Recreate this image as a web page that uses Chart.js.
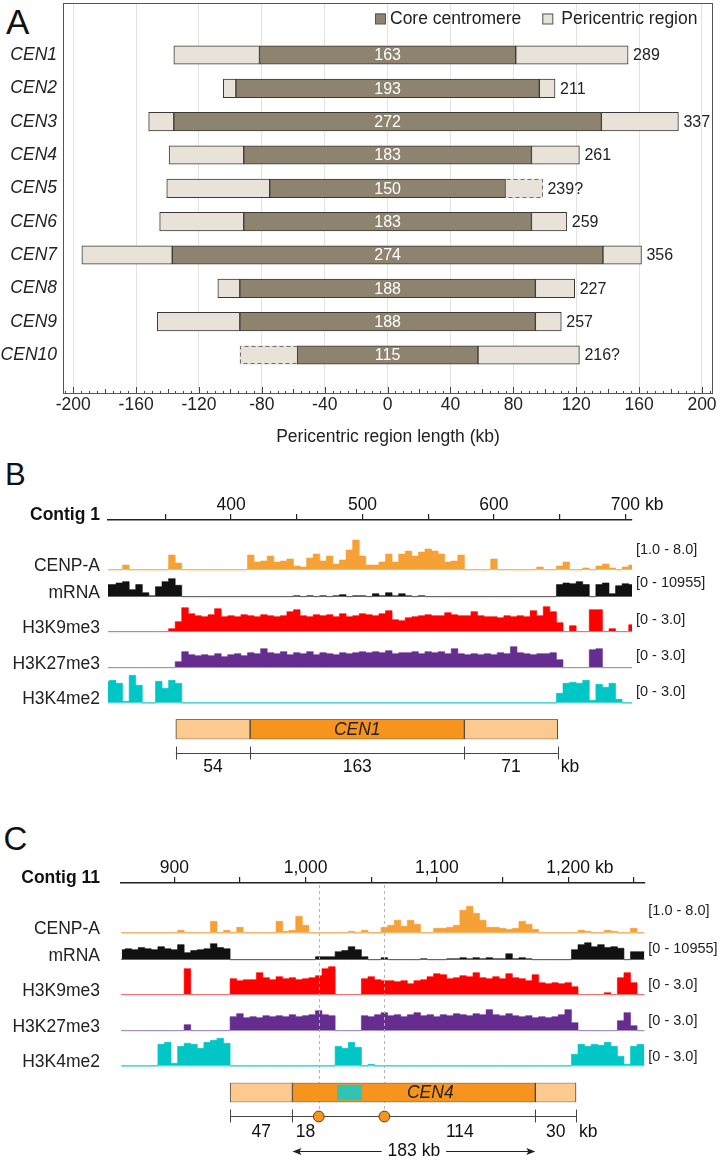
<!DOCTYPE html>
<html lang="en">
<head>
<meta charset="UTF-8">
<title>Centromere and pericentric regions</title>
<script src="https://cdn.jsdelivr.net/npm/chart.js"></script>
<style>
  body { margin: 0; background: #fff; }
  #page { position: relative; width: 720px; height: 1161px; overflow: hidden; font-family: "Liberation Sans", Arial, sans-serif; color: #111; }
  #page canvas { position: absolute; left: 0; }
  .letter { position: absolute; line-height: 1; }
</style>
</head>
<body>
<div id="page">
  <div class="letter" style="left:6px; top:3.7px; font-size:35px;">A</div>
  <div class="letter" style="left:5px; top:458.8px; font-size:31px;">B</div>
  <div class="letter" style="left:3.5px; top:822px; font-size:33px;">C</div>
  <canvas id="lengths" width="720" height="460" style="top:0px"></canvas>
  <canvas id="contig1" width="720" height="230" style="top:480px"></canvas>
  <canvas id="cen1" width="720" height="70" style="top:710px"></canvas>
  <canvas id="contig11" width="720" height="230" style="top:840px"></canvas>
  <canvas id="cen4" width="720" height="91" style="top:1070px"></canvas>
</div>
<script>
// ---------- panel A: pericentric region lengths (kb) ----------
const cenNames = ['CEN1', 'CEN2', 'CEN3', 'CEN4', 'CEN5', 'CEN6', 'CEN7', 'CEN8', 'CEN9', 'CEN10'];
const coreLen = [163, 193, 272, 183, 150, 183, 274, 188, 188, 115];
const periStart = [-136, -104.5, -152, -139, -140.5, -145, -194.5, -108, -146.5, -94];
const periEnd = [153, 106.5, 185, 122, 98.5, 114, 161.5, 119, 110.5, 122];
const totalLabels = ['289', '211', '337', '261', '239?', '259', '356', '227', '257', '216?'];
const uncertainSide = ['', '', '', '', 'right', '', '', '', '', 'left'];
const lengthTicks = [-200, -160, -120, -80, -40, 0, 40, 80, 120, 160, 200];

// ---------- panels B and C: signal tracks ----------
const trackNames = ['CENP-A', 'mRNA', 'H3K9me3', 'H3K27me3', 'H3K4me2'];
const trackRanges = [[1, 8], [0, 10955], [0, 3], [0, 3], [0, 3]];
const rangeLabels = ['[1.0 - 8.0]', '[0 - 10955]', '[0 - 3.0]', '[0 - 3.0]', '[0 - 3.0]'];
const binStep = 5;

// contig 1, bins every 5 kb from 305 kb
const contig1Start = 305;
const contig1Ticks = [350, 400, 450, 500, 550, 600, 650, 700];
const contig1Labels = [400, 500, 600, 700];
const cenpaContig1 = [
  1, 1, 1, 2.0, 1, 1, 1, 1, 1, 1,
  4.0, 2.4, 1, 1, 1, 1, 1, 1, 1, 1,
  1, 1, 4.0, 2.6, 2.8, 3.8, 2.6, 2.8, 3.2, 1.8,
  1.6, 3.4, 4.2, 2.8, 3.8, 2.2, 3.0, 5.0, 7.0, 3.8,
  2.0, 2.0, 2.6, 4.2, 2.6, 4.2, 4.8, 3.8, 4.6, 5.2,
  4.8, 4.2, 2.6, 2.8, 4.0, 1, 1, 1, 1, 3.2,
  1, 1, 1, 1, 1, 1, 1.6, 1, 1, 1.8,
  2.6, 1, 1, 1.4, 1, 1.8, 2.2, 1.4, 1, 1.6,
  2.0];
const mrnaContig1 = [
  5300, 5300, 6000, 6600, 3100, 5300, 1750, 400, 4400, 6600,
  7900, 5000, 0, 0, 0, 0, 0, 0, 0, 0,
  0, 0, 0, 0, 0, 0, 0, 0, 0, 440,
  0, 440, 0, 440, 0, 440, 900, 0, 440, 440,
  0, 1300, 440, 1750, 440, 1300, 440, 0, 440, 0,
  0, 0, 0, 0, 0, 0, 0, 0, 0, 0,
  0, 0, 0, 0, 0, 0, 0, 0, 0, 5300,
  6000, 5700, 6600, 5300, 0, 5300, 6000, 1300, 4800, 5700,
  5300];
const h3k9Contig1 = [
  0, 0, 0, 0, 0, 0, 0, 0, 0, 0,
  0.3, 1.0, 2.4, 1.8, 1.6, 1.5, 1.7, 2.3, 1.5, 1.6,
  1.5, 1.7, 1.6, 1.5, 1.7, 1.6, 1.5, 1.6, 2.0, 2.2,
  1.6, 1.5, 1.7, 1.6, 1.7, 1.5, 1.8, 1.5, 1.6, 1.8,
  1.7, 1.6, 1.8, 2.1, 1.2, 1.1, 1.4, 1.5, 1.6, 1.7,
  1.6, 1.6, 1.9, 1.7, 1.6, 1.6, 2.0, 1.6, 1.5, 1.5,
  1.4, 1.6, 1.5, 1.6, 1.5, 2.1, 1.6, 2.5, 2.0, 0.9,
  0, 0.6, 0, 0, 2.2, 2.2, 0, 0.3, 0, 0,
  0.7];
const h3k27Contig1 = [
  0, 0, 0, 0, 0, 0, 0, 0, 0, 0,
  0, 0.6, 1.6, 1.3, 1.2, 1.3, 1.2, 1.4, 1.1, 1.3,
  1.4, 1.2, 1.5, 1.4, 1.9, 1.5, 1.4, 1.6, 1.3, 1.5,
  1.4, 1.6, 1.3, 1.5, 1.4, 1.3, 1.5, 1.4, 1.5, 1.6,
  1.5, 1.6, 1.5, 1.7, 1.4, 1.5, 1.5, 1.6, 1.4, 1.6,
  1.5, 1.6, 1.4, 1.9, 1.4, 1.3, 1.4, 1.3, 1.4, 1.3,
  1.5, 1.4, 2.1, 1.5, 1.4, 1.3, 1.4, 1.4, 1.5, 0.8,
  0, 0, 0, 0, 1.8, 1.9, 0, 0, 0, 0,
  0];
const h3k4Contig1 = [
  2.2, 2.3, 2.0, 0.2, 2.8, 1.8, 0, 0, 2.2, 1.5,
  2.3, 2.0, 0, 0, 0, 0, 0, 0, 0, 0,
  0, 0, 0, 0, 0, 0, 0, 0, 0, 0,
  0, 0, 0, 0, 0, 0, 0, 0, 0, 0,
  0, 0, 0, 0, 0, 0, 0, 0, 0, 0,
  0, 0, 0, 0, 0, 0, 0, 0, 0, 0,
  0, 0, 0, 0, 0, 0, 0, 0, 0, 1.0,
  2.0, 2.1, 2.0, 2.3, 0.3, 1.9, 1.6, 2.0, 0.4, 0,
  0];
const cen1Bounds = [358, 414.5, 577.5, 648.5];
const cen1Sizes = ['54', '163', '71'];

// contig 11, bins every 5 kb from 860 kb
const contig11Start = 860;
const contig11Ticks = [900, 950, 1000, 1050, 1100, 1150, 1200, 1250];
const contig11Labels = [900, 1000, 1100, 1200];
const cenpaContig11 = [
  1, 1, 1, 1, 1, 1, 1, 1, 1, 1.6,
  1, 1, 1, 1, 3.4, 1, 1.6, 1, 2.2, 1,
  1, 1, 1, 1, 3.4, 1.4, 1.6, 4.4, 2.6, 1,
  1, 1, 1, 1, 1, 1.4, 1, 1.6, 1, 1,
  2.2, 2.6, 3.6, 2.4, 3.6, 2.8, 1, 1, 2.0, 2.0,
  2.2, 2.6, 5.6, 6.4, 5.0, 3.6, 2.2, 2.2, 2.0, 1.8,
  2.0, 3.4, 2.8, 1.8, 1, 1, 1, 1, 1, 1,
  1.6, 1.4, 1, 1, 1.6, 1.4, 1, 1, 2.0, 1,
  1];
const mrnaContig11 = [
  4400, 4800, 4400, 5300, 4800, 4400, 5700, 4800, 4400, 6600,
  3100, 4000, 4400, 4800, 7000, 5300, 4800, 0, 0, 0,
  0, 0, 0, 0, 0, 0, 0, 0, 0, 0,
  1300, 1300, 1300, 3500, 4000, 5700, 4400, 1300, 0, 0,
  900, 0, 0, 0, 0, 0, 440, 0, 0, 0,
  440, 440, 900, 440, 900, 440, 900, 440, 440, 2600,
  440, 900, 440, 0, 0, 0, 0, 0, 0, 4400,
  6600, 7400, 5700, 6600, 5300, 5700, 5000, 0, 3500, 3500,
  3500];
const h3k9Contig11 = [
  0, 0, 0, 0, 0, 0, 0, 0, 0, 0,
  2.6, 0, 0, 0, 0, 0, 0, 1.6, 1.4, 1.5,
  1.5, 2.2, 1.7, 1.5, 1.8, 1.6, 1.7, 1.5, 1.6, 1.7,
  1.9, 2.6, 2.8, 0, 0, 0, 0, 1.6, 1.8, 1.5,
  1.4, 1.4, 1.3, 1.4, 1.1, 1.4, 1.5, 1.8, 2.1, 2.0,
  1.6, 1.7, 1.9, 1.8, 2.2, 1.7, 1.6, 1.8, 1.6, 2.1,
  1.7, 1.6, 1.4, 2.0, 1.2, 1.1, 1.2, 1.1, 1.2, 0.8,
  0, 0, 0, 0, 0.2, 0, 1.7, 2.2, 1.2, 0,
  0];
const h3k27Contig11 = [
  0, 0, 0, 0, 0, 0, 0, 0, 0, 0,
  0.6, 0, 0, 0, 0, 0, 0, 1.4, 1.7, 1.3,
  1.4, 1.3, 1.5, 1.4, 1.5, 1.4, 1.6, 1.4, 1.5, 1.6,
  2.0, 1.6, 1.5, 0, 0, 0, 0, 1.5, 1.4, 1.6,
  1.8, 1.5, 1.6, 1.4, 1.6, 1.8, 1.5, 1.6, 1.4, 1.6,
  1.5, 1.7, 1.6, 1.5, 1.7, 1.6, 2.1, 1.6, 1.5, 1.7,
  1.5, 1.4, 1.5, 1.3, 1.4, 1.3, 1.4, 1.6, 2.1, 0.8,
  0, 0, 0, 0, 0, 0, 1.0, 1.8, 0.5, 0,
  0];
const h3k4Contig11 = [
  0, 0, 0, 0, 0, 0, 2.2, 2.4, 0.3, 2.0,
  2.3, 2.2, 1.8, 2.4, 2.6, 2.8, 2.3, 0, 0, 0,
  0, 0, 0, 0, 0, 0, 0, 0, 0, 0,
  0, 0, 0, 2.0, 1.8, 2.4, 1.9, 0, 0.2, 0,
  0, 0, 0, 0, 0, 0, 0, 0, 0, 0,
  0, 0, 0, 0, 0, 0, 0, 0, 0, 0,
  0, 0, 0, 0, 0, 0, 0, 0, 0, 1.2,
  2.2, 2.0, 2.2, 2.1, 2.4, 2.0, 1.0, 0.2, 2.0, 2.2,
  2.0];
const cen4Bounds = [942.5, 990, 1175, 1206];
const cen4Repeat = [1024, 1043];
const cen4Marks = [1010, 1060];
const cen4Spans = [[942.5, 990], [990, 1010], [1060, 1175], [1175, 1206]];
const cen4Sizes = ['47', '18', '114', '30'];

// ---------- styles ----------
const FONT = '"Liberation Sans", Arial, sans-serif';
Chart.defaults.font.family = FONT;
Chart.defaults.color = '#222';

const coreBrown = '#8e836f';
const periBeige = '#e8e2d9';
const trackColors = ['#f5a136', '#111111', '#ff0000', '#662d91', '#00c6c6'];
const baseColors = ['#f6b86a', '#666666', '#f27272', '#a58fc8', '#55d5d5'];
const trackHeights = [35, 25, 30, 30, 30];
const periOrange = '#fcc98f';
const coreOrange = '#f7941d';
const repeatTeal = '#30c4b4';

function px(ctx, x0, y0, x1, y1) {
  ctx.beginPath(); ctx.moveTo(x0, y0); ctx.lineTo(x1, y1); ctx.stroke();
}

// ---------- panel A ----------
const aDecor = {
  id: 'aDecor',
  afterDatasetsDraw(chart) {
    const { ctx, chartArea: a, scales: { x } } = chart;
    const core = chart.getDatasetMeta(0).data;
    const left = chart.getDatasetMeta(1).data;
    const right = chart.getDatasetMeta(2).data;
    ctx.save();

    // dashed outline where the pericentric end is uncertain
    ctx.setLineDash([4, 3]);
    ctx.strokeStyle = '#6e6e6e';
    ctx.lineWidth = 1;
    uncertainSide.forEach((side, i) => {
      if (!side) return;
      const bar = (side === 'left' ? left : right)[i];
      const t = Math.round(bar.y - bar.height / 2) + 0.5;
      const b = Math.round(bar.y + bar.height / 2) - 0.5;
      const inner = Math.round(bar.base) + 0.5;
      const outer = Math.round(bar.x) + 0.5;
      ctx.beginPath();
      ctx.moveTo(inner, t); ctx.lineTo(outer, t); ctx.lineTo(outer, b); ctx.lineTo(inner, b);
      ctx.stroke();
    });
    ctx.setLineDash([]);

    // core length inside, total length at the end
    ctx.font = '16px ' + FONT;
    ctx.textBaseline = 'middle';
    core.forEach((bar, i) => {
      ctx.fillStyle = '#fff';
      ctx.textAlign = 'center';
      ctx.fillText(String(coreLen[i]), (bar.x + bar.base) / 2, bar.y + 1);
    });
    right.forEach((bar, i) => {
      ctx.fillStyle = '#222';
      ctx.textAlign = 'left';
      ctx.fillText(totalLabels[i], Math.max(bar.x, bar.base) + 5, bar.y + 1);
    });

    // small ticks inside the bottom axis
    ctx.strokeStyle = '#444';
    for (let v = -205; v <= 205; v += 5) {
      const p = Math.round(x.getPixelForValue(v)) + 0.5;
      const len = v % 40 === 0 ? 7 : (v % 20 === 0 ? 5 : 3);
      px(ctx, p, a.bottom, p, a.bottom - len);
    }
    ctx.restore();
  },
  afterDraw(chart) {
    const { ctx, chartArea: a } = chart;
    ctx.save();
    ctx.strokeStyle = '#555';
    ctx.lineWidth = 1;
    ctx.strokeRect(a.left + 0.5, a.top + 0.5, a.width - 1, a.height - 1);

    // legend
    const items = [['Core centromere', coreBrown], ['Pericentric region', periBeige]];
    ctx.font = '17.5px ' + FONT;
    ctx.textBaseline = 'middle';
    ctx.textAlign = 'left';
    let lx = 375;
    items.forEach(([text, color], i) => {
      ctx.fillStyle = color;
      ctx.fillRect(lx, 13.5, 10.5, 10.5);
      ctx.strokeStyle = '#555';
      ctx.strokeRect(lx + 0.5, 14, 10, 10);
      const tx = lx + (i === 0 ? 15 : 19);
      ctx.fillStyle = '#222';
      ctx.fillText(text, tx, 19.5);
      lx = tx + ctx.measureText(text).width + 21;
    });
    ctx.restore();
  }
};

new Chart(document.getElementById('lengths'), {
  type: 'bar',
  data: {
    datasets: [
      {
        label: 'Core centromere',
        data: cenNames.map((n, i) => ({ x: [-coreLen[i] / 2, coreLen[i] / 2], y: i + 1 })),
        backgroundColor: coreBrown
      },
      {
        label: 'Pericentric region',
        data: cenNames.map((n, i) => ({ x: [periStart[i], -coreLen[i] / 2], y: i + 1 })),
        backgroundColor: periBeige,
        borderWidth: c => uncertainSide[c.dataIndex] === 'left' ? 0 : 1
      },
      {
        label: 'Pericentric region',
        data: cenNames.map((n, i) => ({ x: [coreLen[i] / 2, periEnd[i]], y: i + 1 })),
        backgroundColor: periBeige,
        borderWidth: c => uncertainSide[c.dataIndex] === 'right' ? 0 : 1
      }
    ]
  },
  options: {
    indexAxis: 'y',
    responsive: false,
    animation: false,
    events: [],
    datasets: { bar: { barThickness: 18.5, grouped: false, borderSkipped: false, borderColor: '#3b3935', borderWidth: 1 } },
    layout: { padding: { top: 3, right: 7, left: 0, bottom: 0 } },
    plugins: { legend: { display: false }, tooltip: { enabled: false } },
    scales: {
      x: {
        type: 'linear', min: -206.5, max: 207,
        afterBuildTicks: s => { s.ticks = lengthTicks.map(v => ({ value: v })); },
        afterFit: s => { s.height = 66; },
        grid: { color: '#e3e3e3', drawTicks: false, tickLength: 0 },
        border: { display: false },
        ticks: { padding: 1, font: { size: 17.5 }, color: '#222', maxRotation: 0, autoSkip: false },
        title: { display: true, text: 'Pericentric region length (kb)', font: { size: 17.5 }, color: '#222', padding: { top: 0, bottom: 12 } }
      },
      y: {
        type: 'linear', reverse: true, offset: false, min: -0.56, max: 11.17,
        afterBuildTicks: s => { s.ticks = cenNames.map((n, i) => ({ value: i + 1 })); },
        afterFit: s => { s.width = 63; s.paddingTop = 0; s.paddingBottom = 0; },
        grid: { display: false, drawTicks: false, offset: false },
        border: { display: false },
        ticks: { padding: 6, font: { size: 17.5, style: 'italic' }, color: '#222', callback: v => cenNames[v - 1] }
      }
    }
  },
  plugins: [aDecor]
});

// ---------- panels B and C: tracks ----------
const fmtKb = v => v.toLocaleString('en-US');

function trackPanel(id, p) {
  const canvas = document.getElementById(id);
  const areaTop = p.canvasTop + p.rulerHeight;
  const areaBottom = p.canvasTop + canvas.height;
  const scales = {
    x: {
      type: 'linear', position: 'top', min: p.min, max: p.max,
      afterBuildTicks: s => { s.ticks = p.ticks.map(v => ({ value: v })); },
      afterFit: s => { s.height = p.rulerHeight; },
      grid: { drawOnChartArea: false, drawTicks: true, tickLength: 6, color: '#222', lineWidth: 1.2 },
      border: { display: true, color: '#222', width: 1.5 },
      ticks: {
        callback: v => p.labelTicks.includes(v) ? fmtKb(v) : '',
        font: { size: 17.5 }, color: '#111', padding: p.tickPad, maxRotation: 0, autoSkip: false
      }
    }
  };
  const datasets = p.tracks.map((vals, i) => {
    const [lo, hi] = trackRanges[i];
    const perPx = (hi - lo) / trackHeights[i];
    scales['y' + i] = {
      type: 'linear', display: false,
      min: lo - (areaBottom - p.bases[i]) * perPx,
      max: hi + (p.bases[i] - trackHeights[i] - areaTop) * perPx
    };
    return {
      label: trackNames[i],
      yAxisID: 'y' + i,
      data: vals.map((v, j) => ({ x: p.start + j * binStep, y: v })),
      borderColor: trackColors[i],
      backgroundColor: trackColors[i],
      borderWidth: 0.6,
      pointRadius: 0,
      stepped: 'middle',
      fill: { value: lo }
    };
  });

  const decor = {
    id: 'trackDecor',
    afterDatasetsDraw(chart) {
      const { ctx, chartArea: a, scales: sc } = chart;
      ctx.save();
      // dashed guide lines
      if (p.marks) {
        ctx.setLineDash([3, 3]);
        ctx.strokeStyle = '#b4b4b4';
        ctx.lineWidth = 1;
        p.marks.forEach(m => {
          const mx = Math.round(sc.x.getPixelForValue(m)) + 0.5;
          px(ctx, mx, a.top + 2, mx, chart.height);
        });
        ctx.setLineDash([]);
      }
      trackNames.forEach((name, i) => {
        const by = Math.round(sc['y' + i].getPixelForValue(trackRanges[i][0]));
        ctx.strokeStyle = baseColors[i];
        ctx.lineWidth = 1;
        px(ctx, a.left, by - 0.5, a.right, by - 0.5);
        ctx.fillStyle = '#222';
        ctx.textBaseline = 'alphabetic';
        ctx.textAlign = 'right';
        ctx.font = '17.5px ' + FONT;
        ctx.fillText(name, 100, by + 1);
        ctx.textAlign = 'left';
        ctx.font = '14.5px ' + FONT;
        ctx.fillText(rangeLabels[i], a.right + 4, by - p.rangeDy[i]);
      });
      // contig name and unit
      ctx.font = 'bold 17.5px ' + FONT;
      ctx.textAlign = 'right';
      ctx.fillStyle = '#111';
      ctx.fillText(p.contig, 100, a.top - 0.5);
      const last = p.labelTicks[p.labelTicks.length - 1];
      ctx.font = '17.5px ' + FONT;
      const w = ctx.measureText(fmtKb(last)).width;
      ctx.textAlign = 'left';
      ctx.textBaseline = 'middle';
      ctx.fillText(' kb', sc.x.getPixelForValue(last) + w / 2, sc.x.bottom - 6 - p.tickPad - 10.5);
      ctx.restore();
    }
  };

  new Chart(canvas, {
    type: 'line',
    data: { datasets },
    options: {
      responsive: false,
      animation: false,
      events: [],
      layout: { padding: { left: p.padLeft, right: p.padRight, top: 0, bottom: 0 } },
      plugins: { legend: { display: false }, tooltip: { enabled: false } },
      scales
    },
    plugins: [decor]
  });
}

function cenPanel(id, p) {
  const segColors = [periOrange, coreOrange, periOrange];
  const datasets = [];
  if (p.repeat) {
    datasets.push({ data: [p.repeat], backgroundColor: repeatTeal, borderWidth: 0, barPercentage: 0.8 });
  }
  for (let i = 0; i < 3; i++) {
    datasets.push({
      data: [[p.bounds[i], p.bounds[i + 1]]],
      backgroundColor: segColors[i], borderColor: '#55463a', borderWidth: 1
    });
  }

  const decor = {
    id: 'cenDecor',
    beforeDatasetsDraw(chart) {
      if (!p.marks) return;
      const { ctx, chartArea: a, scales: { x } } = chart;
      ctx.save();
      ctx.setLineDash([3, 3]);
      ctx.strokeStyle = '#b4b4b4';
      ctx.lineWidth = 1;
      p.marks.forEach(m => {
        const mx = Math.round(x.getPixelForValue(m)) + 0.5;
        px(ctx, mx, 0, mx, a.bottom + 8);
      });
      ctx.restore();
    },
    afterDatasetsDraw(chart) {
      const { ctx, chartArea: a, scales: { x } } = chart;
      const X = v => x.getPixelForValue(v);
      ctx.save();
      ctx.fillStyle = '#222';
      ctx.font = 'italic 17.5px ' + FONT;
      ctx.textAlign = 'center';
      ctx.textBaseline = 'middle';
      ctx.fillText(p.name, X(p.nameAt), (a.top + a.bottom) / 2 + 1);

      // size scale under the bar
      const ly = Math.round(a.bottom + 13.4) + 0.5;
      ctx.strokeStyle = '#444';
      ctx.lineWidth = 1;
      px(ctx, X(p.bounds[0]), ly, X(p.bounds[p.bounds.length - 1]), ly);
      p.bounds.forEach(b => {
        const bx = Math.round(X(b)) + 0.5;
        px(ctx, bx, ly - 7, bx, ly + 6);
      });
      if (p.marks) {
        p.marks.forEach(m => {
          ctx.beginPath();
          ctx.arc(X(m), ly, 5.4, 0, Math.PI * 2);
          ctx.fillStyle = coreOrange;
          ctx.fill();
          ctx.strokeStyle = '#5a3c1c';
          ctx.stroke();
        });
      }
      ctx.fillStyle = '#111';
      ctx.font = '17.5px ' + FONT;
      p.spans.forEach((s, i) => {
        ctx.textAlign = 'center';
        ctx.fillText(p.sizes[i], X((s[0] + s[1]) / 2), ly + p.labelDy);
      });
      ctx.textAlign = 'left';
      ctx.fillText('kb', X(p.bounds[p.bounds.length - 1]) + 3, ly + p.labelDy);

      // arrow spanning the core
      if (p.arrowText) {
        const ay = Math.round(ly + 34.3) + 0.5;
        const x0 = X(p.bounds[1]), x1 = X(p.bounds[2]);
        const cx = (x0 + x1) / 2;
        const half = ctx.measureText(p.arrowText).width / 2 + 6;
        ctx.textAlign = 'center';
        ctx.fillText(p.arrowText, cx, ay);
        ctx.strokeStyle = '#222';
        px(ctx, x0 + 2, ay, cx - half, ay);
        px(ctx, cx + half, ay, x1 - 2, ay);
        ctx.fillStyle = '#222';
        [[x0, 1], [x1, -1]].forEach(([tip, dir]) => {
          ctx.beginPath();
          ctx.moveTo(tip, ay);
          ctx.lineTo(tip + dir * 9, ay - 3.5);
          ctx.lineTo(tip + dir * 7, ay);
          ctx.lineTo(tip + dir * 9, ay + 3.5);
          ctx.closePath();
          ctx.fill();
        });
      }
      ctx.restore();
    }
  };

  new Chart(document.getElementById(id), {
    type: 'bar',
    data: { labels: [p.name], datasets },
    options: {
      indexAxis: 'y',
      responsive: false,
      animation: false,
      events: [],
      datasets: { bar: { grouped: false, barPercentage: 1, categoryPercentage: 1, borderSkipped: false } },
      layout: { padding: p.pad },
      plugins: { legend: { display: false }, tooltip: { enabled: false } },
      scales: {
        x: { type: 'linear', display: false, min: p.min, max: p.max },
        y: { display: false }
      }
    },
    plugins: [decor]
  });
}

trackPanel('contig1', {
  contig: 'Contig 1', canvasTop: 480, rulerHeight: 40,
  min: 306.4, max: 705, padLeft: 108, padRight: 88, tickPad: -1.5,
  ticks: contig1Ticks, labelTicks: contig1Labels, start: contig1Start,
  tracks: [cenpaContig1, mrnaContig1, h3k9Contig1, h3k27Contig1, h3k4Contig1],
  bases: [570, 596.7, 631.7, 667.7, 703.3],
  rangeDy: [16, 10, 8.4, 7.7, 6.6]
});

cenPanel('cen1', {
  name: 'CEN1', min: 306.4, max: 705,
  pad: { left: 108, right: 88, top: 9.3, bottom: 40.7 },
  bounds: cen1Bounds, nameAt: (cen1Bounds[1] + cen1Bounds[2]) / 2,
  spans: [[cen1Bounds[0], cen1Bounds[1]], [cen1Bounds[1], cen1Bounds[2]], [cen1Bounds[2], cen1Bounds[3]]],
  sizes: cen1Sizes, labelDy: 13.5
});

trackPanel('contig11', {
  contig: 'Contig 11', canvasTop: 840, rulerHeight: 43,
  min: 859.4, max: 1258, padLeft: 121, padRight: 75.7, tickPad: -1.5,
  ticks: contig11Ticks, labelTicks: contig11Labels, start: contig11Start,
  tracks: [cenpaContig11, mrnaContig11, h3k9Contig11, h3k27Contig11, h3k4Contig11],
  bases: [933.3, 959.7, 994.7, 1030.7, 1066.3],
  rangeDy: [18, 7.4, 6.4, 6.4, 4.6],
  marks: cen4Marks
});

cenPanel('cen4', {
  name: 'CEN4', min: 859.4, max: 1258,
  pad: { left: 121, right: 75.7, top: 12.7, bottom: 58.7 },
  bounds: cen4Bounds, repeat: cen4Repeat, marks: cen4Marks, nameAt: 1095,
  spans: cen4Spans, sizes: cen4Sizes, labelDy: 16,
  arrowText: '183 kb'
});
</script>
</body>
</html>
